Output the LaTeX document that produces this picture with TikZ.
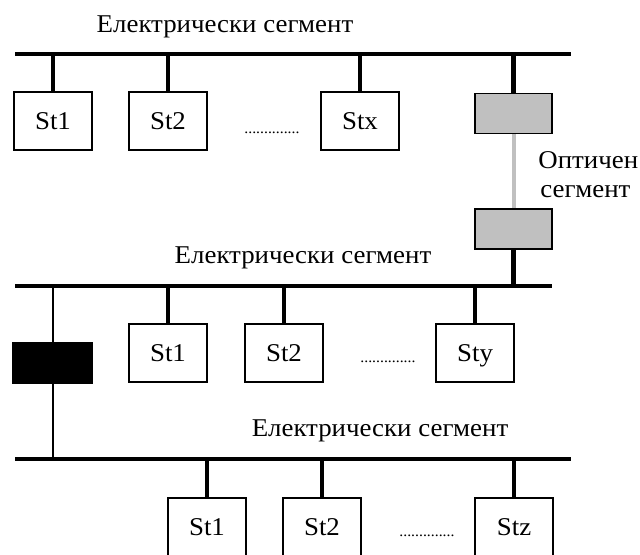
\documentclass[tikz,border=0pt]{standalone}
\usepackage{fontspec}
\setmainfont{Liberation Serif}[FakeStretch=1.05]
\definecolor{fibergray}{HTML}{C0C0C0}
\begin{document}
\begin{tikzpicture}[x=0.5pt,y=-0.5pt,
  font=\fontsize{12.8}{15}\selectfont,
  bus/.style={line width=2.2pt},
  stub/.style={line width=2.1pt},
  station/.style={draw, line width=0.75pt, minimum width=39pt, minimum height=29pt, inner sep=0pt, fill=white,
    text height=8.5pt, text depth=0pt},
  repeater/.style={draw, line width=0.75pt, minimum width=38.5pt, minimum height=20pt, inner sep=0pt, fill=fibergray},
  bridgebox/.style={draw, fill=black, line width=0.75pt, minimum width=39.5pt, minimum height=20pt, inner sep=0pt},
  fiber/.style={line width=2pt, draw=fibergray},
  link/.style={line width=0.8pt},
  segtitle/.style={anchor=base, inner sep=0pt},
  dots/.style={anchor=base west, inner sep=0pt, font=\fontsize{7.5}{9}\selectfont}]
\useasboundingbox (0,0) rectangle (640,554);

% bus end points
\coordinate (busA-w) at (15,54);
\coordinate (busA-e) at (571,54);
\coordinate (busB-w) at (15,286);
\coordinate (busB-e) at (552,286);
\coordinate (busC-w) at (15,459);
\coordinate (busC-e) at (571,459);

% segment titles
\node[segtitle] (titleA) at (225,32) {Електрически сегмент};
\node[segtitle] (titleB) at (303,263) {Електрически сегмент};
\node[segtitle] (titleC) at (380,436) {Електрически сегмент};
\node[anchor=base west, inner sep=0pt] (fibertext) at (538,168) {Оптичен};
\node[anchor=base west, inner sep=0pt] (fibertext2) at (540,197) {сегмент};

% bridge link between the second and third segment (drawn beneath the bridge box)
\draw[link] (53,286) -- (53,459);

% buses
\draw[bus] (busA-w) -- (busA-e);
\draw[bus] (busB-w) -- (busB-e);
\draw[bus] (busC-w) -- (busC-e);

% first segment
\node[station] (a1) at (53,121) {St1};
\node[station] (a2) at (168,121) {St2};
\node[station] (ax) at (360,121) {Stx};
\node[repeater] (repA) at (513.5,113.5) {};
\node[dots] (dotsA) at (244,133) {..............};

% second segment
\node[repeater] (repB) at (513.5,229) {};
\node[bridgebox] (bridge) at (52.5,363) {};
\node[station] (b1) at (168,353) {St1};
\node[station] (b2) at (284,353) {St2};
\node[station] (by) at (475,353) {Sty};
\node[dots] (dotsB) at (360,362) {..............};

% third segment
\node[station] (c1) at (207,527) {St1};
\node[station] (c2) at (322,527) {St2};
\node[station] (cz) at (514,527) {Stz};
\node[dots] (dotsC) at (399,536) {..............};

% drop lines to the buses
\foreach \n in {a1,a2,ax,repA}
  \draw[stub] (\n.north) -- (\n.north |- busA-w);
\foreach \n in {b1,b2,by}
  \draw[stub] (\n.north) -- (\n.north |- busB-w);
\draw[stub] (repB.south) -- (repB.south |- busB-w);
\foreach \n in {c1,c2,cz}
  \draw[stub] (\n.north) -- (\n.north |- busC-w);

% optical segment
\draw[fiber] (repA.south) -- (repB.north);
\end{tikzpicture}
\end{document}
